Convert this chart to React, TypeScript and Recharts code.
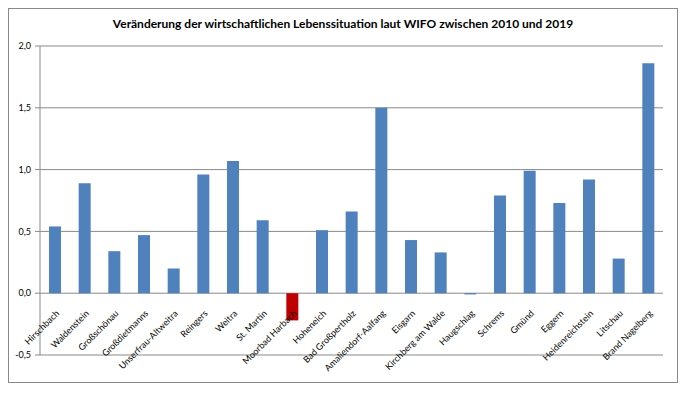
import React from "react";
import {
  BarChart,
  Bar,
  XAxis,
  YAxis,
  CartesianGrid,
  Cell,
} from "recharts";

const gemeinden = [
  "Hirschbach",
  "Waldenstein",
  "Großschönau",
  "Großdietmanns",
  "Unserfrau-Altweitra",
  "Reingers",
  "Weitra",
  "St. Martin",
  "Moorbad Harbach",
  "Hoheneich",
  "Bad Großpertholz",
  "Amaliendorf-Aalfang",
  "Eisgarn",
  "Kirchberg am Walde",
  "Haugschlag",
  "Schrems",
  "Gmünd",
  "Eggern",
  "Heidenreichstein",
  "Litschau",
  "Brand Nagelberg",
];

const veraenderung = [
  0.54, 0.89, 0.34, 0.47, 0.2, 0.96, 1.07, 0.59, -0.22, 0.51, 0.66, 1.5,
  0.43, 0.33, -0.01, 0.79, 0.99, 0.73, 0.92, 0.28, 1.86,
];

const yTicks = [-0.5, 0, 0.5, 1, 1.5, 2];

const data = gemeinden.map((name, i) => ({ name, wert: veraenderung[i] }));

const FONT = "Lato, 'Open Sans', sans-serif";
const GRID = "#898989";

// x labels sit under the zero line, not under the plot bottom
const ZERO_SHIFT = 62;

function CategoryTick({ x, y, payload }: any) {
  return (
    <g transform={`translate(${x + 5},${y - ZERO_SHIFT + 19})`}>
      <text
        textAnchor="end"
        transform="rotate(-45)"
        fontSize={9}
        fontFamily={FONT}
        fill="#000"
      >
        {payload.value}
      </text>
    </g>
  );
}

export default function App() {
  return (
    <div
      style={{
        position: "relative",
        width: 670,
        height: 375,
        border: `1px solid ${GRID}`,
        boxSizing: "border-box",
        background: "#fff",
      }}
    >
      <div
        style={{
          position: "absolute",
          top: 7,
          left: 0,
          width: "100%",
          textAlign: "center",
          fontFamily: FONT,
          fontWeight: 700,
          fontSize: 12,
          color: "#000",
        }}
      >
        Veränderung der wirtschaftlichen Lebenssituation laut WIFO zwischen 2010 und 2019
      </div>
      <BarChart
        width={668}
        height={373}
        data={data}
        margin={{ top: 37, right: 14, bottom: 7, left: 0 }}
      >
        <CartesianGrid vertical={false} stroke={GRID} strokeWidth={1} />
        <XAxis
          dataKey="name"
          axisLine={false}
          tickLine={false}
          tickSize={0}
          height={20}
          interval={0}
          tick={<CategoryTick />}
        />
        <YAxis
          width={31}
          domain={[-0.5, 2]}
          ticks={yTicks}
          tickFormatter={(v) => v.toFixed(1).replace(".", ",")}
          axisLine={{ stroke: GRID }}
          tickLine={{ stroke: GRID }}
          tickSize={5}
          tickMargin={4}
          tick={{ fontSize: 9, fontFamily: FONT, fill: "#000" }}
        />
        <Bar dataKey="wert" barSize={12} isAnimationActive={false}>
          {data.map((d, i) => (
            <Cell key={i} fill={d.name === "Moorbad Harbach" ? "#C00000" : "#4F81BD"} />
          ))}
        </Bar>
      </BarChart>
    </div>
  );
}
